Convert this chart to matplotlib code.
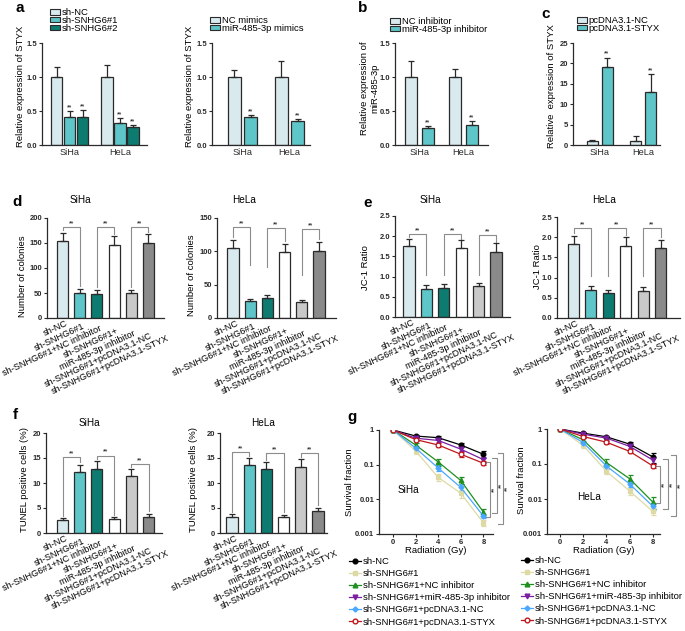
import numpy as np
import matplotlib
matplotlib.use("Agg")
import matplotlib.pyplot as plt
from matplotlib.patches import Patch
from matplotlib.lines import Line2D

plt.rcParams['font.family'] = ['Liberation Sans', 'DejaVu Sans']

# ---------------- data ----------------
cells = ["SiHa", "HeLa"]

# a (left): STYX after SNHG6 knockdown
a1_names = ["sh-NC", "sh-SNHG6#1", "sh-SNHG6#2"]
a1_mean = [[1.0, 0.41, 0.41], [1.0, 0.32, 0.26]]
a1_err = [[0.15, 0.09, 0.10], [0.17, 0.07, 0.03]]
a1_sig = [["", "**", "**"], ["", "**", "**"]]

# a (right): STYX after miR-485-3p mimics
a2_names = ["NC mimics", "miR-485-3p mimics"]
a2_mean = [[1.0, 0.41], [1.0, 0.35]]
a2_err = [[0.10, 0.03], [0.23, 0.03]]
a2_sig = [["", "**"], ["", "**"]]

# b: miR-485-3p after inhibitor
b_names = ["NC inhibitor", "miR-485-3p inhibitor"]
b_mean = [[1.0, 0.25], [1.0, 0.30]]
b_err = [[0.23, 0.03], [0.12, 0.05]]
b_sig = [["", "**"], ["", "**"]]

# c: STYX overexpression
c_names = ["pcDNA3.1-NC", "pcDNA3.1-STYX"]
c_mean = [[1.0, 19.0], [1.0, 13.0]]
c_err = [[0.3, 2.4], [1.2, 4.3]]
c_sig = [["", "**"], ["", "**"]]

# x labels of d, e, f (the 4th group is written on two lines)
label_lines = ["sh-NC", "sh-SNHG6#1", "sh-SNHG6#1+NC inhibitor", "sh-SNHG6#1+",
               "miR-485-3p inhibitor", "sh-SNHG6#1+pcDNA3.1-NC", "sh-SNHG6#1+pcDNA3.1-STYX"]

# d: colonies
d_siha = [153, 51, 49, 145, 50, 149]
d_siha_err = [17, 7, 7, 18, 6, 18]
d_hela = [105, 25, 30, 99, 24, 101]
d_hela_err = [12, 3, 4, 12, 3, 13]

# e: JC-1 ratio
e_siha = [1.75, 0.70, 0.73, 1.70, 0.77, 1.62]
e_siha_err = [0.18, 0.08, 0.09, 0.20, 0.08, 0.20]
e_hela = [1.83, 0.70, 0.62, 1.78, 0.66, 1.73]
e_hela_err = [0.21, 0.09, 0.08, 0.22, 0.10, 0.20]

# f: TUNEL
f_siha = [2.7, 12.3, 12.9, 2.8, 11.5, 3.3]
f_siha_err = [0.4, 1.4, 1.5, 0.4, 1.3, 0.5]
f_hela = [3.3, 13.6, 12.9, 3.3, 13.2, 4.4]
f_hela_err = [0.5, 1.4, 1.3, 0.4, 1.6, 0.7]

# g: survival curves
doses = [0, 2, 4, 6, 8]
g_names = ["sh-NC", "sh-SNHG6#1", "sh-SNHG6#1+NC inhibitor",
           "sh-SNHG6#1+miR-485-3p inhibitor", "sh-SNHG6#1+pcDNA3.1-NC",
           "sh-SNHG6#1+pcDNA3.1-STYX"]
g_siha = [[1, 0.67, 0.60, 0.37, 0.20],
          [1, 0.25, 0.043, 0.015, 0.0021],
          [1, 0.37, 0.12, 0.035, 0.0043],
          [1, 0.58, 0.50, 0.28, 0.14],
          [1, 0.30, 0.08, 0.022, 0.0033],
          [1, 0.53, 0.37, 0.20, 0.11]]
g_siha_err = [[0, 0.06, 0.05, 0.05, 0.04],
              [0, 0.05, 0.010, 0.004, 0.0004],
              [0, 0.06, 0.03, 0.008, 0.0008],
              [0, 0.05, 0.05, 0.04, 0.025],
              [0, 0.05, 0.015, 0.005, 0.0005],
              [0, 0.05, 0.04, 0.03, 0.015]]
g_hela = [[1, 0.76, 0.60, 0.37, 0.16],
          [1, 0.34, 0.062, 0.017, 0.0044],
          [1, 0.49, 0.11, 0.038, 0.0082],
          [1, 0.71, 0.55, 0.32, 0.13],
          [1, 0.41, 0.088, 0.027, 0.0062],
          [1, 0.61, 0.42, 0.23, 0.088]]
g_hela_err = [[0, 0.07, 0.05, 0.05, 0.05],
              [0, 0.06, 0.010, 0.004, 0.001],
              [0, 0.07, 0.025, 0.009, 0.003],
              [0, 0.06, 0.05, 0.04, 0.03],
              [0, 0.05, 0.015, 0.005, 0.0012],
              [0, 0.05, 0.04, 0.03, 0.010]]

# ---------------- style ----------------
EDGE = '#2a2a2a'
BR = '#8c8c8c'
LIGHT = '#d9eaee'
TEAL = '#5ec5c8'
DARK = '#0e7b70'
cat_colors = [LIGHT, TEAL, DARK, '#ffffff', '#c9c9c9', '#8a8a8a']
g_colors = ['#000000', '#dedaa6', '#1f8f1f', '#7b1fa2', '#4aa8ff', '#c0161b']
g_markers = ['o', 's', '^', 'v', 'D', 'o']
ANG = 25
TICK_FS = 5.5
LAB_FS = 6.8
CAT_FS = 6.6

W, H = 685, 631
fig = plt.figure(figsize=(W / 100, H / 100), dpi=100)


def box(l, t, r, b):
    return [l / W, 1 - b / H, (r - l) / W, (b - t) / H]


def px_lim(left, right, c0, s):
    return ((left - c0) / s, (right - c0) / s)


def style(ax):
    for s in ['top', 'right']:
        ax.spines[s].set_visible(False)
    for s in ['left', 'bottom']:
        ax.spines[s].set_linewidth(0.9)
        ax.spines[s].set_color(EDGE)
    ax.tick_params(axis='y', length=2.5, width=0.8, pad=1, colors=EDGE)
    ax.tick_params(axis='x', length=0, pad=2, colors=EDGE)


def set_yticks(ax, ticks, fmt):
    ax.set_yticks(ticks, [fmt.format(t) for t in ticks], fontsize=TICK_FS, fontweight='bold')


def ylabel(ax, text, xpx, ypx, rect):
    # xpx, ypx: centre of the rotated label in figure pixels
    l, t, r, b = rect
    ax.set_ylabel(text, fontsize=LAB_FS, va='center')
    ax.yaxis.set_label_coords((xpx - l) / (r - l), (b - ypx) / (b - t))


def grouped(ax, means, errs, sig, colors, step, width):
    for g in range(len(means)):
        n = len(means[g])
        xs = [g + (k - (n - 1) / 2) * step for k in range(n)]
        ax.bar(xs, means[g], width, color=colors, edgecolor=EDGE, linewidth=0.9, zorder=2)
        ax.errorbar(xs, means[g], yerr=[np.zeros(n), errs[g]], fmt='none', ecolor=EDGE,
                    elinewidth=0.9, capsize=2.3, capthick=0.9, zorder=3)
        for k in range(n):
            if sig[g][k]:
                ax.annotate(sig[g][k], (xs[k], means[g][k] + errs[g][k]), xytext=(0, 0),
                            textcoords='offset points', ha='center', va='bottom', fontsize=5)
    ax.set_xticks(range(len(means)), cells, fontsize=CAT_FS)


def small_legend(ax, names, colors, xpx, ypx):
    handles = [Patch(facecolor=c, edgecolor=EDGE, linewidth=0.8) for c in colors]
    ax.legend(handles, names, loc='upper left', bbox_to_anchor=(xpx / W, 1 - ypx / H),
              bbox_transform=fig.transFigure, frameon=False, fontsize=LAB_FS,
              handlelength=1.05, handleheight=0.55, handletextpad=0.2,
              labelspacing=-0.12, borderpad=0, borderaxespad=0)


def bracket(ax, i, j, top, lft, rgt):
    ax.plot([i, i, j, j], [lft, top, top, rgt], color=BR, lw=0.8, clip_on=False, zorder=1)
    ax.text((i + j) / 2, top, '**', ha='center', va='bottom', fontsize=5)


def cat_labels(ax, dx, dy, sx, sy):
    # the 7 text lines sit in evenly spaced slots starting below the first bar
    ax.set_xticks(range(6), [''] * 6)
    for i, s in enumerate(label_lines):
        ax.annotate(s, xy=(0, 0), xycoords=ax.get_xaxis_transform(),
                    xytext=((dx + i * sx) * 0.72, -(dy + i * sy) * 0.72),
                    textcoords='offset points', rotation=ANG, rotation_mode='anchor',
                    ha='right', va='center', fontsize=CAT_FS, annotation_clip=False)


def cat_panel(ax, means, errs, xlim, ylim, ticks, fmt, brackets):
    x = np.arange(len(means))
    ax.bar(x, means, 0.64, color=cat_colors, edgecolor=EDGE, linewidth=0.9, zorder=2)
    ax.errorbar(x, means, yerr=[np.zeros(len(x)), errs], fmt='none', ecolor=EDGE,
                elinewidth=0.9, capsize=2.3, capthick=0.9, zorder=3)
    ax.set_xlim(*xlim)
    ax.set_ylim(*ylim)
    set_yticks(ax, ticks, fmt)
    for br in brackets:
        bracket(ax, *br)
    cat_labels(ax, 5, 5, 16.8, 2.5)


def surv_panel(ax, means, errs, xlim, name, name_xy, brackets):
    for k in range(len(means)):
        mfc = 'white' if k == 5 else g_colors[k]
        ax.errorbar(doses, means[k], yerr=errs[k], color=g_colors[k], marker=g_markers[k],
                    ms=3.4 if k != 4 else 2.6, mfc=mfc, mec=g_colors[k], mew=0.9, lw=0.9,
                    elinewidth=0.8, capsize=1.8, capthick=0.8, zorder=3)
    ax.set_yscale('log')
    ax.set_ylim(0.001, 1)
    ax.set_xlim(*xlim)
    ax.minorticks_off()
    ax.set_yticks([0.001, 0.01, 0.1, 1], ['0.001', '0.01', '0.1', '1'],
                  fontsize=TICK_FS, fontweight='bold')
    ax.set_xticks(doses, [str(d) for d in doses], fontsize=TICK_FS, fontweight='bold')
    ax.tick_params(axis='x', length=2, width=0.8, pad=1.5)
    ax.set_xlabel("Radiation (Gy)", fontsize=LAB_FS, labelpad=0)
    ax.text(name_xy[0], name_xy[1], name, fontsize=7.2, ha='left', va='center')
    for xb, top, bot in brackets:
        ax.plot([xb - 0.45, xb, xb, xb - 0.45], [top, top, bot, bot], color=BR,
                lw=0.8, clip_on=False)
        ax.text(xb + 0.12, np.sqrt(top * bot), '**', rotation=90, ha='left',
                va='center', fontsize=5, clip_on=False)


def g_legend(ax, xpx, ypx):
    handles = [Line2D([], [], color=g_colors[k], marker=g_markers[k], lw=0.9,
                      ms=3.4 if k != 4 else 2.6, mfc='white' if k == 5 else g_colors[k],
                      mec=g_colors[k]) for k in range(6)]
    ax.legend(handles, g_names, loc='upper left', bbox_to_anchor=(xpx / W, 1 - ypx / H),
              bbox_transform=fig.transFigure, frameon=False, fontsize=LAB_FS,
              handlelength=1.3, handletextpad=0.2, labelspacing=0.33, borderpad=0,
              borderaxespad=0)


def letter(xpx, ypx, s):
    fig.text(xpx / W, 1 - ypx / H, s, fontsize=11, fontweight='bold', ha='center', va='center')


def title(xpx, ypx, s):
    fig.text(xpx / W, 1 - ypx / H, s, fontsize=7.2, ha='center', va='center')


# ---------------- row 1 ----------------
r_a1 = (42, 43, 147, 145)
ax = fig.add_axes(box(*r_a1))
style(ax)
grouped(ax, a1_mean, a1_err, a1_sig, [LIGHT, TEAL, DARK], 13 / 50.5, 11.5 / 50.5)
ax.set_xlim(*px_lim(42, 147, 69.5, 50.5))
ax.set_ylim(0, 1.5)
set_yticks(ax, [0, 0.5, 1.0, 1.5], '{:.1f}')
ylabel(ax, "Relative expression of STYX", 21, 86, r_a1)
small_legend(ax, a1_names, [LIGHT, TEAL, DARK], 50, 8)

r_a2 = (212, 43, 310, 145)
ax = fig.add_axes(box(*r_a2))
style(ax)
grouped(ax, a2_mean, a2_err, a2_sig, [LIGHT, TEAL], 16.5 / 47.2, 13 / 47.2)
ax.set_xlim(*px_lim(212, 310, 242.5, 47.2))
ax.set_ylim(0, 1.5)
set_yticks(ax, [0, 0.5, 1.0, 1.5], '{:.1f}')
ylabel(ax, "Relative expression of STYX", 189, 86, r_a2)
small_legend(ax, a2_names, [LIGHT, TEAL], 210, 16)

r_b = (395, 43, 488, 145)
ax = fig.add_axes(box(*r_b))
style(ax)
grouped(ax, b_mean, b_err, b_sig, [LIGHT, TEAL], 17 / 44, 12.5 / 44)
ax.set_xlim(*px_lim(395, 488, 419.5, 44))
ax.set_ylim(0, 1.5)
set_yticks(ax, [0, 0.5, 1.0, 1.5], '{:.1f}')
ylabel(ax, "Relative expression of\nmiR-485-3p", 370, 88, r_b)
small_legend(ax, b_names, [LIGHT, TEAL], 390, 17)

r_c = (573, 43, 660, 145)
ax = fig.add_axes(box(*r_c))
style(ax)
grouped(ax, c_mean, c_err, c_sig, [LIGHT, TEAL], 15 / 43.5, 11 / 43.5)
ax.set_xlim(*px_lim(573, 660, 599.5, 43.5))
ax.set_ylim(0, 25)
set_yticks(ax, [0, 5, 10, 15, 20, 25], '{:d}')
ylabel(ax, "Relative  expression of STYX", 552, 86, r_c)
small_legend(ax, c_names, [LIGHT, TEAL], 577, 16)

letter(20, 8, 'a')
letter(363, 8, 'b')
letter(546, 14, 'c')

# ---------------- row 2 ----------------
r = (47, 218, 164, 318)
ax = fig.add_axes(box(*r))
style(ax)
cat_panel(ax, d_siha, d_siha_err, px_lim(47, 164, 62.5, 17.2),
          (0, 200), [0, 50, 100, 150, 200], '{:d}',
          [(0, 1, 182, 176, 64), (2, 3, 182, 62, 168), (4, 5, 182, 62, 172)])
ylabel(ax, "Number of colonies", 23, 276, r)

r = (217, 218, 336, 318)
ax = fig.add_axes(box(*r))
style(ax)
cat_panel(ax, d_hela, d_hela_err, px_lim(217, 336, 233, 17.2),
          (0, 150), [0, 50, 100, 150], '{:d}',
          [(0, 1, 136, 121, 80), (2, 3, 135, 77, 116), (4, 5, 133, 64, 118)])
ylabel(ax, "Number of colonies", 192, 275, r)

r = (395, 216, 510, 317)
ax = fig.add_axes(box(*r))
style(ax)
cat_panel(ax, e_siha, e_siha_err, px_lim(395, 510, 409, 17.4),
          (0, 2.5), [0, 0.5, 1.0, 1.5, 2.0, 2.5], '{:.1f}',
          [(0, 1, 2.05, 1.97, 1.04), (2, 3, 2.05, 1.05, 1.93), (4, 5, 2.03, 1.04, 1.85)])
ylabel(ax, "JC-1 Ratio", 366, 268, r)

r = (557, 217, 680, 318)
ax = fig.add_axes(box(*r))
style(ax)
cat_panel(ax, e_hela, e_hela_err, px_lim(557, 680, 573.5, 17.4),
          (0, 2.5), [0, 0.5, 1.0, 1.5, 2.0, 2.5], '{:.1f}',
          [(0, 1, 2.23, 2.1, 1.04), (2, 3, 2.23, 1.04, 2.05), (4, 5, 2.23, 1.04, 2.0)])
ylabel(ax, "JC-1 Ratio", 537, 267, r)

letter(17, 202, 'd')
letter(368, 203, 'e')
title(80, 200, 'SiHa')
title(244, 200, 'HeLa')
title(430, 200, 'SiHa')
title(604, 200, 'HeLa')

# ---------------- row 3 ----------------
r = (46, 433, 162, 533)
ax = fig.add_axes(box(*r))
style(ax)
cat_panel(ax, f_siha, f_siha_err, px_lim(46, 162, 62.5, 17.2),
          (0, 20), [0, 5, 10, 15, 20], '{:d}',
          [(0, 1, 15.2, 3.5, 14.2), (2, 3, 15.5, 14.8, 3.6), (4, 5, 13.8, 13.2, 4.4)])
ylabel(ax, "TUNEL positive cells (%)", 25, 480, r)

r = (220, 433, 327, 533)
ax = fig.add_axes(box(*r))
style(ax)
cat_panel(ax, f_hela, f_hela_err, px_lim(220, 327, 232, 17.2),
          (0, 20), [0, 5, 10, 15, 20], '{:d}',
          [(0, 1, 16.2, 4.3, 15.5), (2, 3, 16.0, 14.7, 4.2), (4, 5, 16.0, 15.3, 5.6)])
ylabel(ax, "TUNEL positive cells (%)", 193, 480, r)

letter(15, 415, 'f')
title(89, 423, 'SiHa')
title(263, 423, 'HeLa')

r = (379, 430, 493, 534)
ax = fig.add_axes(box(*r))
style(ax)
surv_panel(ax, g_siha, g_siha_err, px_lim(379, 493, 393, 11.3), 'SiHa', (0.4, 0.018),
           [(8.6, 0.12, 0.003), (9.2, 0.155, 0.004), (9.7, 0.216, 0.0019)])
ylabel(ax, "Survival fraction", 350, 482, r)
g_legend(ax, 349, 557)

r = (547, 429, 660, 534)
ax = fig.add_axes(box(*r))
style(ax)
surv_panel(ax, g_hela, g_hela_err, px_lim(547, 660, 560, 11.6), 'HeLa', (1.5, 0.0115),
           [(8.6, 0.088, 0.0077), (9.3, 0.138, 0.0052), (10.0, 0.18, 0.0033)])
ylabel(ax, "Survival fraction", 521, 480, r)
g_legend(ax, 521, 556)

letter(352, 417, 'g')

fig.savefig("out.png", dpi=100)
